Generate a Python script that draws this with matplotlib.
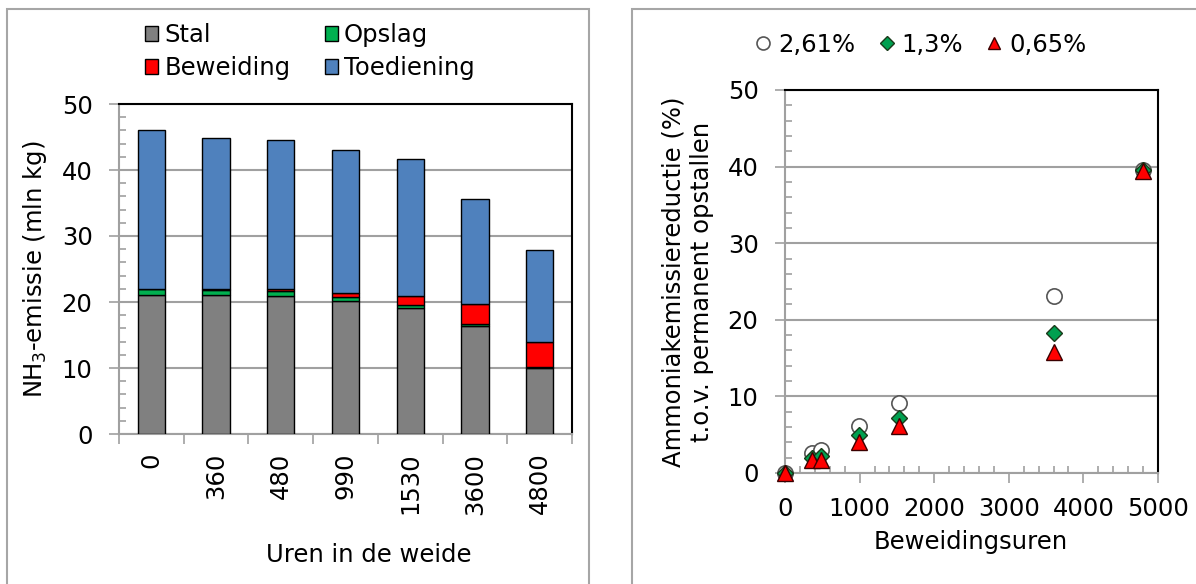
import matplotlib
matplotlib.use("Agg")
import matplotlib.pyplot as plt
import numpy as np
from matplotlib.patches import Rectangle
from matplotlib.ticker import MultipleLocator

plt.rcParams["font.family"] = ["DejaVu Sans"]
plt.rcParams["font.size"] = 17.5

# ── data ─────────────────────────────────────────────────────────────────────
uren = ["0", "360", "480", "990", "1530", "3600", "4800"]
stal = [21.1, 21.1, 20.9, 20.1, 19.1, 16.4, 10.0]
opslag = [0.8, 0.7, 0.8, 0.6, 0.5, 0.2, 0.1]
beweiding = [0.0, 0.2, 0.2, 0.7, 1.3, 3.1, 3.9]
toediening = [24.2, 22.8, 22.7, 21.6, 20.8, 15.9, 13.9]

beweidingsuren = [0, 360, 480, 990, 1530, 3600, 4800]
red_261 = [0.0, 2.6, 3.0, 6.1, 9.2, 23.1, 39.6]
red_13 = [0.0, 2.0, 2.2, 4.9, 7.2, 18.3, 39.5]
red_065 = [0.0, 1.7, 1.7, 4.0, 6.1, 15.8, 39.4]

W, H = 1196, 584
fig = plt.figure(figsize=(W / 100, H / 100), dpi=100)
GRID = "#a0a0a0"


def px_axes(x0, y0, x1, y1):
    """Axes from a pixel box (top-left origin)."""
    return fig.add_axes([x0 / W, (H - y1) / H, (x1 - x0) / W, (y1 - y0) / H])


def style_axes(ax):
    for s in ("left", "bottom"):
        ax.spines[s].set_color(GRID)
        ax.spines[s].set_linewidth(1.5)
    for s in ("top", "right"):
        ax.spines[s].set_color("black")
        ax.spines[s].set_linewidth(1.5)
    ax.grid(axis="y", which="major", color=GRID, lw=1.5, zorder=0)


# panel frames
fig.add_artist(Rectangle((7 / W, -0.1), (589 - 7) / W, (H - 9) / H + 0.1,
                         transform=fig.transFigure, fill=False,
                         edgecolor="#a6a6a6", lw=1.5))
fig.add_artist(Rectangle((632 / W, -0.1), 0.5, (H - 9) / H + 0.1,
                         transform=fig.transFigure, fill=False,
                         edgecolor="#a6a6a6", lw=1.5))

# ── left: stacked bars ──────────────────────────────────────────────────────
ax1 = px_axes(119, 104, 572, 434)
x = np.arange(len(uren))
kw = dict(width=0.42, edgecolor="black", linewidth=1.0, zorder=3)
b = np.zeros(len(uren))
ax1.bar(x, stal, bottom=b, color="#808080", label="Stal", **kw)
b += stal
ax1.bar(x, opslag, bottom=b, color="#00b050", label="Opslag", **kw)
b += opslag
ax1.bar(x, beweiding, bottom=b, color="#ff0000", label="Beweiding", **kw)
b += beweiding
ax1.bar(x, toediening, bottom=b, color="#4f81bd", label="Toediening", **kw)

ax1.set_xlim(-0.5, len(uren) - 0.5)
ax1.set_ylim(0, 50)
ax1.yaxis.set_major_locator(MultipleLocator(10))
ax1.yaxis.set_minor_locator(MultipleLocator(2))
ax1.set_xticks(x)
ax1.set_xticklabels(uren, rotation=90, va="top", ha="center")
ax1.set_xticks(np.arange(-0.5, len(uren)), minor=True)
ax1.tick_params(axis="x", which="major", length=0, pad=13.5)
ax1.tick_params(axis="x", which="minor", direction="out", length=7, color=GRID, width=1.2)
ax1.tick_params(axis="y", which="major", direction="out", length=7, color=GRID,
                width=1.2, pad=12)
ax1.tick_params(axis="y", which="minor", direction="in", length=5, color=GRID, width=1.2)
style_axes(ax1)
ax1.set_ylabel("NH$_3$-emissie (mln kg)")
ax1.yaxis.set_label_coords(-0.155, 0.5)
ax1.set_xlabel("Uren in de weide")
ax1.xaxis.set_label_coords(0.552, -0.33)

h, l = ax1.get_legend_handles_labels()
order = [0, 2, 1, 3]
fig.legend([h[i] for i in order], [l[i] for i in order], ncol=2,
           loc="center left", bbox_to_anchor=(145 / W, 1 - 51.5 / H),
           frameon=False, handlelength=0.55, handleheight=0.55,
           handletextpad=0.25, columnspacing=1.4, labelspacing=0.37,
           borderaxespad=0, borderpad=0)

# ── right: scatter ──────────────────────────────────────────────────────────
ax2 = px_axes(785, 90, 1158, 473)
ax2.plot(beweidingsuren, red_261, "o", ms=11, mfc="white", mec="#555555",
         mew=1.2, ls="none", label="2,61%", clip_on=False, zorder=3)
ax2.plot(beweidingsuren, red_13, "D", ms=8.5, mfc="#00a050", mec="#1a3a1a",
         mew=1.0, ls="none", label="1,3%", clip_on=False, zorder=4)
ax2.plot(beweidingsuren, red_065, "^", ms=11, mfc="#ff0000", mec="#3a0000",
         mew=1.0, ls="none", label="0,65%", clip_on=False, zorder=5)
ax2.set_xlim(0, 5000)
ax2.set_ylim(0, 50)
ax2.xaxis.set_major_locator(MultipleLocator(1000))
ax2.xaxis.set_minor_locator(MultipleLocator(200))
ax2.yaxis.set_major_locator(MultipleLocator(10))
ax2.yaxis.set_minor_locator(MultipleLocator(2))
ax2.tick_params(which="major", direction="out", length=7, color=GRID, width=1.2)
ax2.tick_params(which="minor", direction="in", length=5, color=GRID, width=1.2)
ax2.tick_params(axis="x", which="major", pad=10)
ax2.tick_params(axis="y", which="major", pad=12)
style_axes(ax2)
ax2.set_xlabel("Beweidingsuren")
ax2.xaxis.set_label_coords(0.499, -0.15)
ax2.set_ylabel("Ammoniakemissiereductie (%)\nt.o.v. permanent opstallen",
               linespacing=1.25)
ax2.yaxis.set_label_coords(-0.19, 0.5)

fig.legend(*ax2.get_legend_handles_labels(), ncol=3,
           loc="center left", bbox_to_anchor=(756 / W, 1 - 45 / H),
           frameon=False, handlelength=0.6, handletextpad=0.3,
           columnspacing=1.0, borderaxespad=0, borderpad=0, markerscale=0.85)

fig.savefig("out.png", dpi=100)
